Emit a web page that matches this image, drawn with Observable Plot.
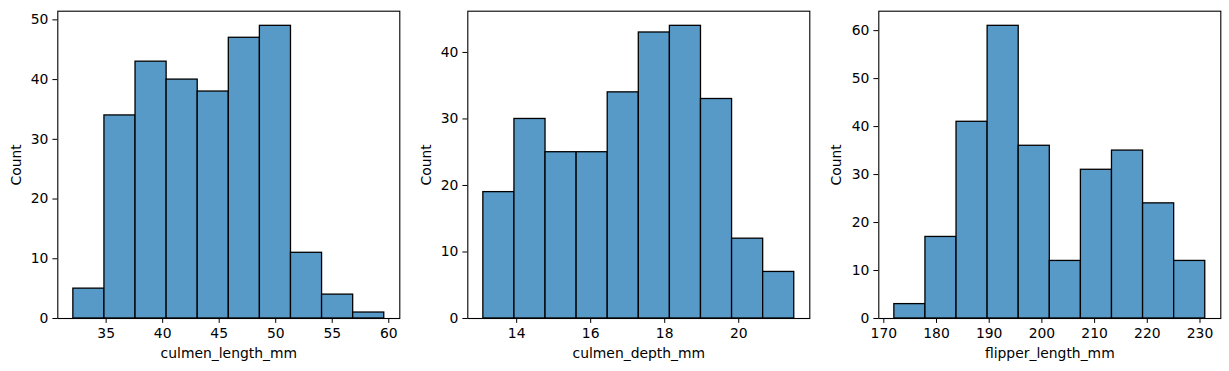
<!DOCTYPE html>
<html>
<head>
<meta charset="utf-8">
<script src="https://cdn.jsdelivr.net/npm/d3@7"></script>
<script src="https://cdn.jsdelivr.net/npm/@observablehq/plot@0.6"></script>
<style>
  html, body { margin: 0; padding: 0; background: #fff; }
  #wrap { position: relative; width: 1229px; height: 371px; overflow: hidden; }
  #wrap > div { position: absolute; top: 0; }
</style>
</head>
<body>
<div id="wrap">
  <div id="p1" style="left:0px"></div>
  <div id="p2" style="left:410px"></div>
  <div id="p3" style="left:820px"></div>
</div>
<script>
// ---- data ----
const lengthEdges = [32.1, 34.85, 37.6, 40.35, 43.1, 45.85, 48.6, 51.35, 54.1, 56.85, 59.6];
const lengthCounts = [5, 34, 43, 40, 38, 47, 49, 11, 4, 1];
const lengthTicks = [35, 40, 45, 50, 55, 60];
const lengthYTicks = [0, 10, 20, 30, 40, 50];

const depthEdges = [13.1, 13.94, 14.78, 15.62, 16.46, 17.3, 18.14, 18.98, 19.82, 20.66, 21.5];
const depthCounts = [19, 30, 25, 25, 34, 43, 44, 33, 12, 7];
const depthTicks = [14, 16, 18, 20];
const depthYTicks = [0, 10, 20, 30, 40];

const flipperEdges = [172, 177.9, 183.8, 189.7, 195.6, 201.5, 207.4, 213.3, 219.2, 225.1, 231];
const flipperCounts = [3, 17, 41, 61, 36, 12, 31, 35, 24, 12];
const flipperTicks = [170, 180, 190, 200, 210, 220, 230];
const flipperYTicks = [0, 10, 20, 30, 40, 50, 60];

const panels = [
  {id: "p1", label: "culmen_length_mm", edges: lengthEdges, counts: lengthCounts, xticks: lengthTicks, yticks: lengthYTicks,
   xdomain: [30.725, 60.975], ydomain: [0, 51.45], width: 410, ml: 57.3, mr: 10.7},
  {id: "p2", label: "culmen_depth_mm", edges: depthEdges, counts: depthCounts, xticks: depthTicks, yticks: depthYTicks,
   xdomain: [12.68, 21.92], ydomain: [0, 46.2], width: 410, ml: 57.3, mr: 10.7},
  {id: "p3", label: "flipper_length_mm", edges: flipperEdges, counts: flipperCounts, xticks: flipperTicks, yticks: flipperYTicks,
   xdomain: [169.05, 233.95], ydomain: [0, 64.05], width: 409, ml: 58.3, mr: 8.7}
];

const FILL = "rgb(87,153,199)";
const FS = 13.9;

for (const p of panels) {
  const rows = p.counts.map((c, i) => ({x1: p.edges[i], x2: p.edges[i + 1], y: c}));
  const chart = Plot.plot({
    width: p.width,
    height: 371,
    marginLeft: p.ml,
    marginRight: p.mr,
    marginTop: 10.7,
    marginBottom: 53,
    style: {fontFamily: "DejaVu Sans, sans-serif", fontSize: FS + "px", color: "#000", background: "#fff"},
    x: {domain: p.xdomain, ticks: p.xticks, tickSize: 4.9, tickPadding: 4.5, label: null},
    y: {domain: p.ydomain, ticks: p.yticks, tickSize: 4.9, tickPadding: 4.5, label: null},
    marks: [
      Plot.rectY(rows, {x1: "x1", x2: "x2", y: "y", fill: FILL, stroke: "#000", strokeWidth: 1.3, inset: 0}),
      Plot.frame({stroke: "#000", strokeWidth: 1.1}),
      Plot.text([p.label], {frameAnchor: "bottom", dy: 34.7, lineAnchor: "middle", fontSize: FS, fill: "#000"}),
      Plot.text(["Count"], {frameAnchor: "left", dx: 16 - p.ml, rotate: -90, lineAnchor: "middle", textAnchor: "middle", fontSize: FS, fill: "#000"})
    ]
  });
  document.getElementById(p.id).appendChild(chart);
}
</script>
</body>
</html>
